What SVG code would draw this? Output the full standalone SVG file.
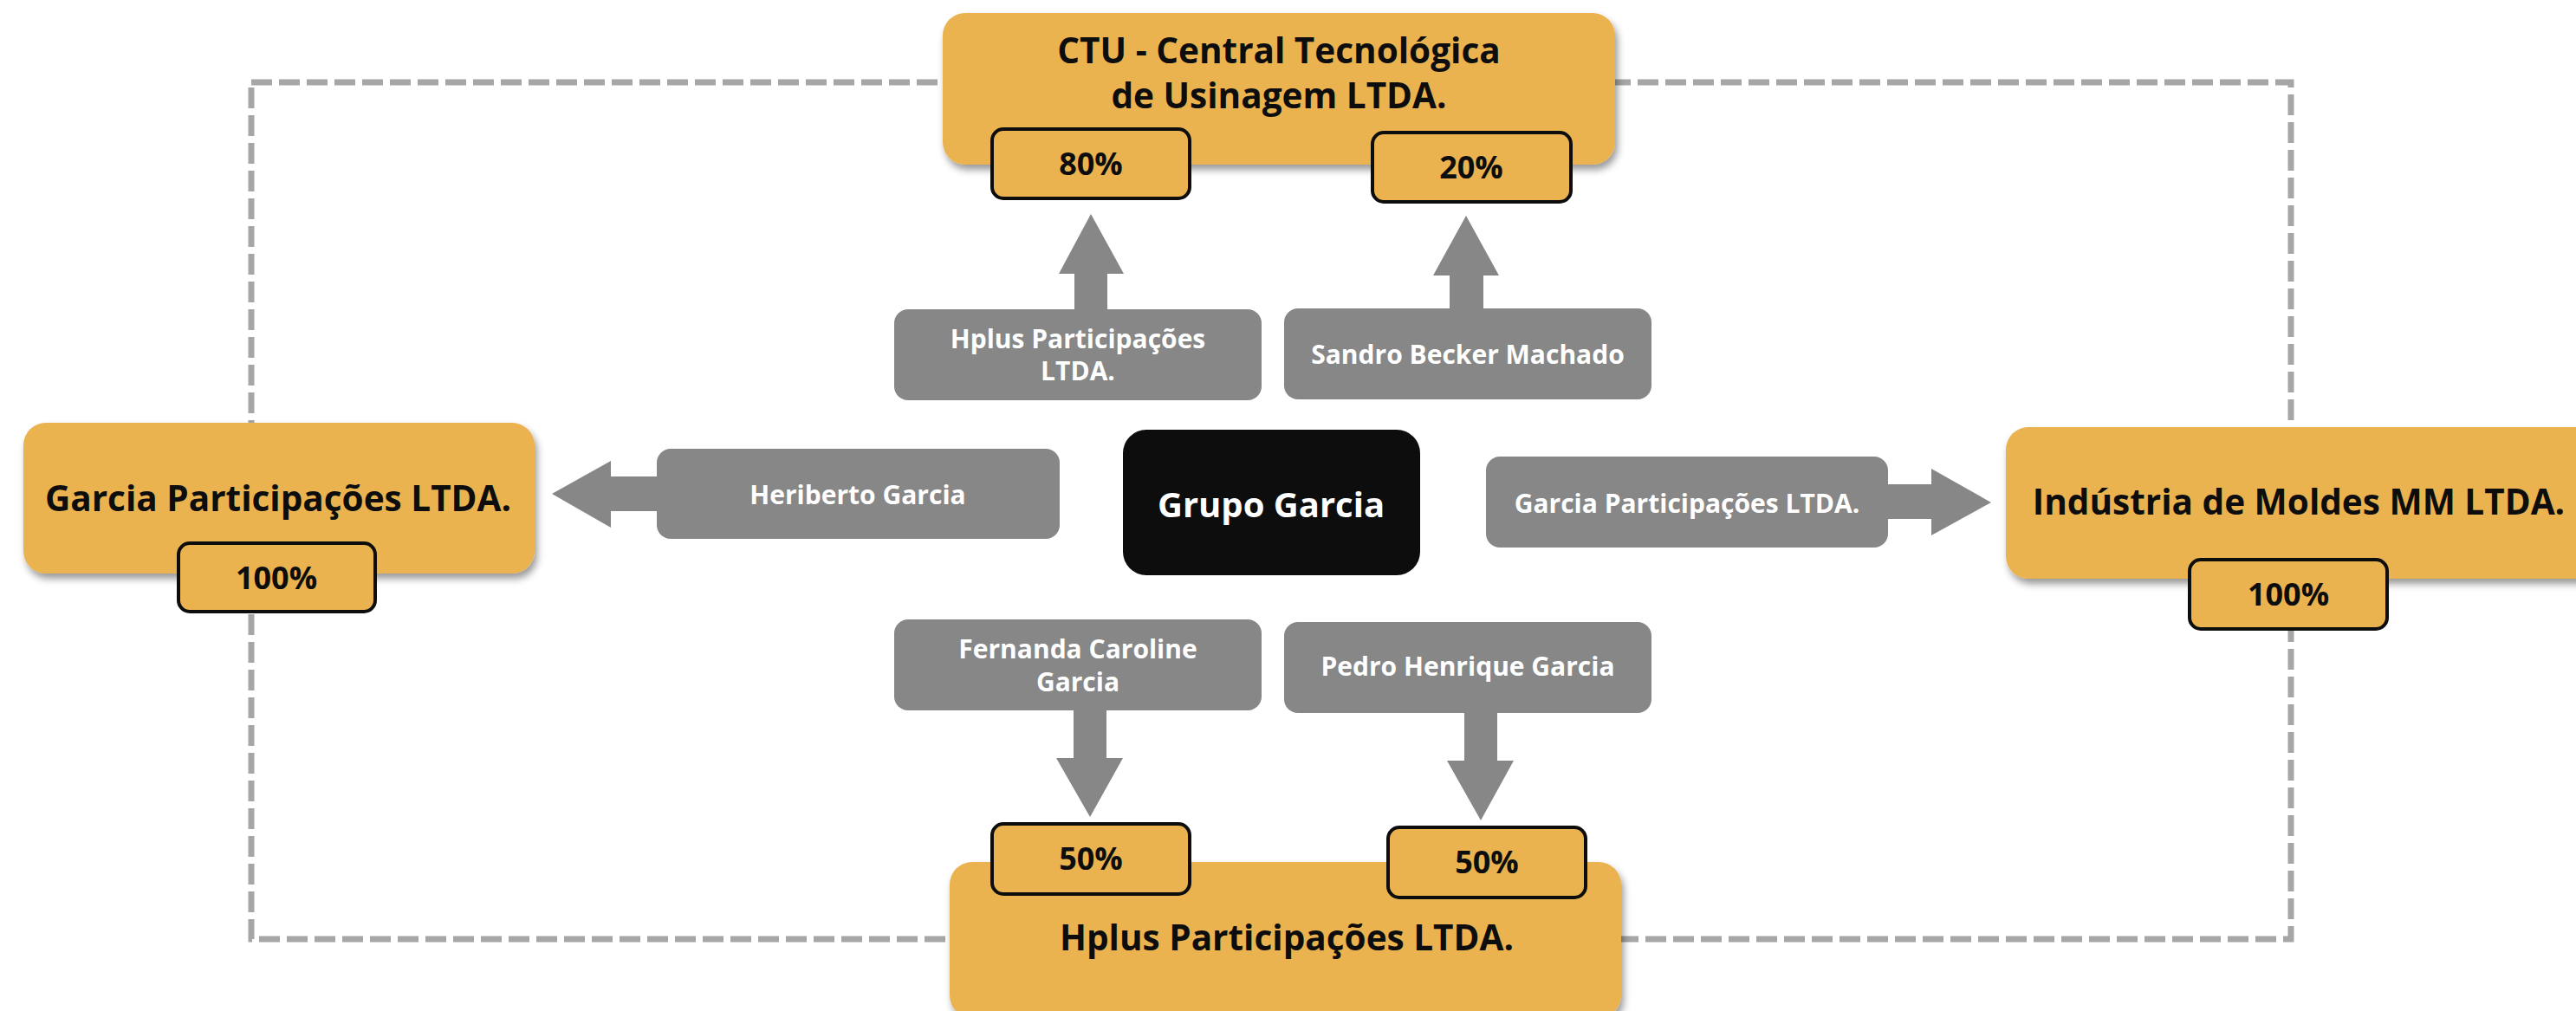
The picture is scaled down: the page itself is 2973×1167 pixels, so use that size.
<svg xmlns="http://www.w3.org/2000/svg" width="2973" height="1167" viewBox="0 0 2973 1167">
<defs>
<filter id="sh" x="-10%" y="-20%" width="120%" height="150%">
<feDropShadow dx="3" dy="6" stdDeviation="4" flood-color="#000" flood-opacity="0.4"/>
</filter>
<style>
.org{fill:#EAB350;filter:url(#sh)}
.badge{fill:#EAB350;stroke:#0D0D0D;stroke-width:4}
.gray{fill:#878787}
.arrow{fill:#878787}
.dash{fill:none;stroke:#A6A6A6;stroke-width:7;stroke-dasharray:24 8}
text{font-family:"Open Sans","Noto Sans","DejaVu Sans",sans-serif;font-weight:700;text-anchor:middle}
.t-org{font-size:40.5px;fill:#0D0D0D}
.t-pct{font-size:36px;fill:#0D0D0D}
.t-gray{font-size:30px;fill:#FFFFFF}
.t-main{font-size:40px;fill:#FFFFFF}
</style>
</defs>
<rect width="2973" height="1167" fill="#FFFFFF"/>
<g id="connectors">
<rect class="dash" x="290" y="95" width="2354" height="989"/>
<polygon class="arrow" points="1240,358 1240,316 1222,316 1259,247 1297,316 1278,316 1278,358"/>
<polygon class="arrow" points="1673,357 1673,318 1654,318 1692,249 1730,318 1712,318 1712,357"/>
<polygon class="arrow" points="759,550 705,550 705,532 637,570 705,609 705,590 759,590"/>
<polygon class="arrow" points="2178,559 2229,559 2229,541 2298,580 2229,618 2229,599 2178,599"/>
<polygon class="arrow" points="1239,819 1277,819 1277,875 1296,875 1258,943 1219,875 1239,875"/>
<polygon class="arrow" points="1690,822 1728,822 1728,878 1747,878 1709,947 1670,878 1690,878"/>
</g>
<g id="ctu">
<rect class="org" x="1088" y="15" width="776" height="175" rx="26"/>
<text class="t-org" x="1476" y="73">CTU - Central Tecnológica</text>
<text class="t-org" x="1476" y="125">de Usinagem LTDA.</text>
</g>
<g id="ctu-80">
<rect class="badge" x="1145" y="149" width="228" height="80" rx="13"/>
<text class="t-pct" x="1259" y="202">80%</text>
</g>
<g id="ctu-20">
<rect class="badge" x="1584" y="153" width="229" height="80" rx="13"/>
<text class="t-pct" x="1698" y="206">20%</text>
</g>
<g id="garcia-part">
<rect class="org" x="27" y="488" width="590" height="174" rx="26"/>
<text class="t-org" x="321" y="590">Garcia Participações LTDA.</text>
</g>
<g id="garcia-100">
<rect class="badge" x="206" y="627" width="227" height="79" rx="13"/>
<text class="t-pct" x="319" y="680">100%</text>
</g>
<g id="industria">
<rect class="org" x="2315" y="493" width="690" height="175" rx="26"/>
<text class="t-org" x="2653" y="594">Indústria de Moldes MM LTDA.</text>
</g>
<g id="industria-100">
<rect class="badge" x="2527" y="646" width="228" height="80" rx="13"/>
<text class="t-pct" x="2641" y="699">100%</text>
</g>
<g id="hplus">
<rect class="org" x="1096" y="995" width="775" height="180" rx="26"/>
<text class="t-org" x="1485" y="1097">Hplus Participações LTDA.</text>
</g>
<g id="hplus-50a">
<rect class="badge" x="1145" y="951" width="228" height="81" rx="13"/>
<text class="t-pct" x="1259" y="1004">50%</text>
</g>
<g id="hplus-50b">
<rect class="badge" x="1602" y="955" width="228" height="81" rx="13"/>
<text class="t-pct" x="1716" y="1008">50%</text>
</g>
<g id="src-hplus">
<rect class="gray" x="1032" y="357" width="424" height="105" rx="16"/>
<text class="t-gray" x="1244" y="402">Hplus Participações</text>
<text class="t-gray" x="1244" y="439">LTDA.</text>
</g>
<g id="src-sandro">
<rect class="gray" x="1482" y="356" width="424" height="105" rx="16"/>
<text class="t-gray" x="1694" y="420">Sandro Becker Machado</text>
</g>
<g id="src-heriberto">
<rect class="gray" x="758" y="518" width="465" height="104" rx="16"/>
<text class="t-gray" x="990" y="582">Heriberto Garcia</text>
</g>
<g id="src-garcia">
<rect class="gray" x="1715" y="527" width="464" height="105" rx="16"/>
<text class="t-gray" x="1947" y="592">Garcia Participações LTDA.</text>
</g>
<g id="src-fernanda">
<rect class="gray" x="1032" y="715" width="424" height="105" rx="16"/>
<text class="t-gray" x="1244" y="760">Fernanda Caroline</text>
<text class="t-gray" x="1244" y="798">Garcia</text>
</g>
<g id="src-pedro">
<rect class="gray" x="1482" y="718" width="424" height="105" rx="16"/>
<text class="t-gray" x="1694" y="780">Pedro Henrique Garcia</text>
</g>
<g id="grupo-garcia">
<rect x="1296" y="496" width="343" height="168" rx="27" fill="#0D0D0D"/>
<text class="t-main" x="1467" y="597">Grupo Garcia</text>
</g>
</svg>
